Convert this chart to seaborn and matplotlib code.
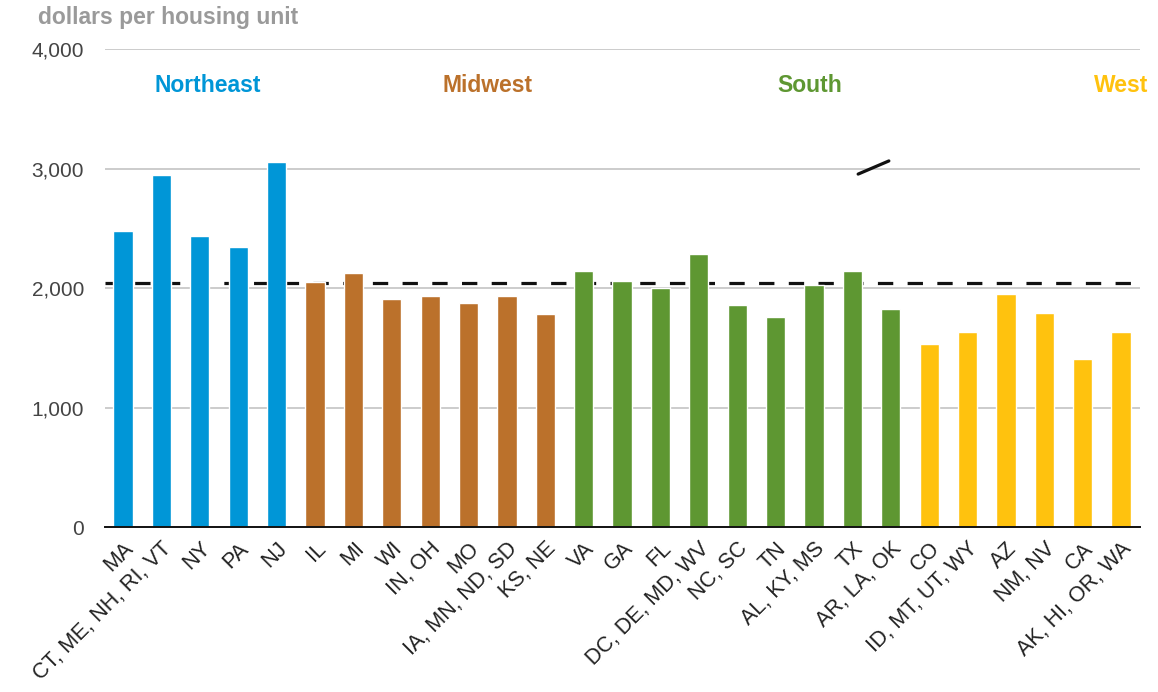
import matplotlib
matplotlib.use("Agg")
import matplotlib.pyplot as plt
import seaborn as sns
import pandas as pd

# Average dollars per housing unit by state group
states = [
    "MA", "CT, ME, NH, RI, VT", "NY", "PA", "NJ",
    "IL", "MI", "WI", "IN, OH", "MO", "IA, MN, ND, SD", "KS, NE",
    "VA", "GA", "FL", "DC, DE, MD, WV", "NC, SC", "TN", "AL, KY, MS", "TX", "AR, LA, OK",
    "CO", "ID, MT, UT, WY", "AZ", "NM, NV", "CA", "AK, HI, OR, WA",
]
regions = (["Northeast"] * 5 + ["Midwest"] * 7 + ["South"] * 9 + ["West"] * 6)
values = [
    2475, 2945, 2440, 2345, 3055,
    2050, 2130, 1905, 1935, 1875, 1935, 1780,
    2145, 2060, 2000, 2290, 1855, 1760, 2030, 2145, 1825,
    1535, 1635, 1955, 1795, 1410, 1635,
]
us_average = 2045

region_names = ["Northeast", "Midwest", "South", "West"]
region_colors = ["#0096d7", "#bb712b", "#5e9732", "#ffc20e"]
yticks = [0, 1000, 2000, 3000, 4000]

df = pd.DataFrame({"state": states, "region": regions, "value": values})
palette = dict(zip(region_names, region_colors))

sns.set_style("white")
plt.rcParams["font.family"] = ["Liberation Sans", "DejaVu Sans"]

fig = plt.figure(figsize=(11.58, 6.92), dpi=100)
ax = fig.add_axes([0.0907, 0.2384, 0.894, 0.6904])

# reference line for the national average, drawn beneath the bars
ax.axhline(us_average, color="#111111", lw=2.3, dashes=(4.8, 4.5), zorder=1)

sns.barplot(data=df, x="state", y="value", hue="region", order=states,
            hue_order=region_names, palette=palette, dodge=False, width=0.5,
            saturation=1, legend=False, ax=ax, zorder=2)

ax.set_ylim(0, 4000)
ax.set_xlim(-0.47, len(states) - 0.5)
ax.set_yticks(yticks)
ax.set_yticklabels([f"{v:,}" for v in yticks], fontsize=15, color="#444444")
ax.yaxis.grid(True, color="#c4c4c4", lw=1.2, zorder=0)
ax.set_axisbelow(True)
ax.tick_params(axis="y", length=0, pad=15)
ax.tick_params(axis="x", length=5, width=1.2, color="#111111", direction="out", pad=3)
ax.set_xticks(range(len(states)))
ax.set_xticklabels(states, rotation=45, ha="right", va="top",
                   rotation_mode="anchor", fontsize=15.5, color="#222222")
ax.set_xlabel("")
ax.set_ylabel("")
for side in ["left", "right", "top"]:
    ax.spines[side].set_visible(False)
ax.spines["bottom"].set_color("#111111")
ax.spines["bottom"].set_linewidth(1.4)
ax.spines["bottom"].set_zorder(3)

# region headers
region_label_x = [2.2, 9.5, 17.9, 26.0]
for name, color, xpos in zip(region_names, region_colors, region_label_x):
    ax.text(xpos, 3700, name, color=color, fontsize=16.5, fontweight="bold",
            ha="center", va="center", clip_on=False)

# leader stroke left over from the average annotation
ax.plot([19.15, 19.95], [2955, 3065], color="#111111", lw=2.3,
        solid_capstyle="round", zorder=4)

fig.text(0.033, 0.975, "dollars per housing unit", color="#9a9a9a",
         fontsize=16.5, fontweight="bold", ha="left", va="center")

fig.savefig("out.png", dpi=100, facecolor="white")
